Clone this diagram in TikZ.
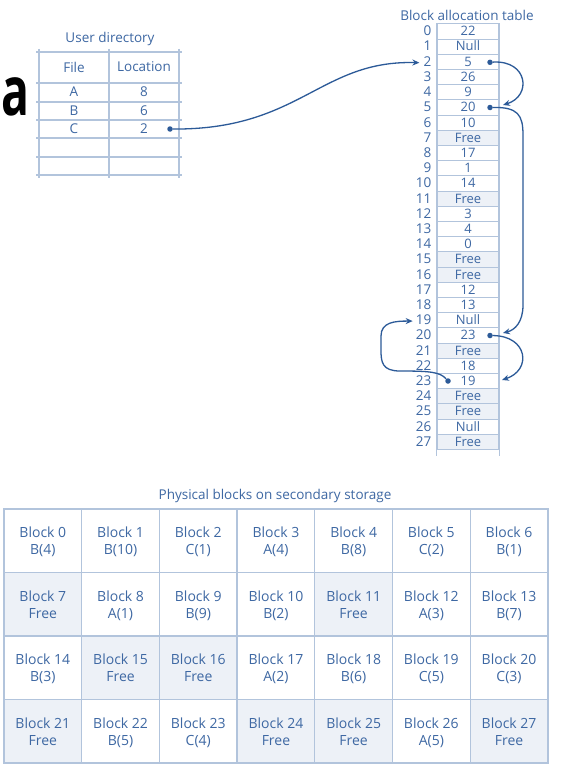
\documentclass[tikz,border=0pt]{standalone}
\usepackage{fontspec}
\setmainfont{Open Sans}
\usetikzlibrary{arrows.meta}
\definecolor{txt}{HTML}{3E68A3}
\definecolor{gridc}{HTML}{B2C4DC}
\definecolor{arr}{HTML}{2C5A98}
\definecolor{freefill}{HTML}{EDF1F7}
\tikzset{
  lbl/.style={text=txt, inner sep=0pt, font=\fontsize{13.5}{16}\selectfont},
  udcell/.style={text=txt, inner sep=0pt, font=\fontsize{13.5}{16}\selectfont},
  batcell/.style={draw=gridc, line width=1.1pt, minimum width=62pt, minimum height=15.2pt, inner sep=0pt, text=txt},
  battext/.style={inner sep=0pt, text height=9.6pt, text depth=2.6pt, text=txt, font=\fontsize{13}{15}\selectfont},
  idxlbl/.style={anchor=east, inner sep=1pt, text height=9.6pt, text depth=2.6pt, text=txt, font=\fontsize{13.5}{15}\selectfont},
  pbcell/.style={draw=gridc, line width=1.3pt, minimum width=77.7pt, minimum height=63.5pt, inner sep=0pt},
  pbtext/.style={inner sep=0pt, text=txt, align=center, font=\fontsize{14}{17}\selectfont},
  dotn/.style={circle, fill=arr, inner sep=0pt, minimum size=5.5pt},
  link/.style={draw=arr, line width=1.3pt, -{Stealth[length=7pt,width=6pt]}},
}
\begin{document}
\begin{tikzpicture}[x=1pt,y=-1pt]
\useasboundingbox (0,0) rectangle (562,768);
\clip (0,0) rectangle (562,768);
\fill[white] (0,0) rectangle (562,768);
% big letter
\node[anchor=base west, inner sep=0pt, xscale=0.68, transform shape, font=\fontsize{68}{68}\selectfont\bfseries] (biga) at (1,115) {a};
% user directory
\node[lbl] (udtitle) at (110,39) {User directory};
\draw[gridc, line width=1.1pt]
  (36,52) -- (182,52) (36,83) -- (182,83) (36,102) -- (182,102) (36,120) -- (182,120)
  (36,138) -- (182,138) (36,157) -- (182,157) (36,175) -- (182,175)
  (39,49) -- (39,178) (109,49) -- (109,178) (179,49) -- (179,178);
\node[udcell] (udh1) at (74,67) {File};
\node[udcell] (udh2) at (144,67) {Location};
\node[udcell] (udA) at (74,92) {A};
\node[udcell] (udA2) at (144,92) {8};
\node[udcell] (udB) at (74,111) {B};
\node[udcell] (udB2) at (144,111) {6};
\node[udcell] (udC) at (74,129) {C};
\node[udcell] (udC2) at (144,129) {2};
\node[dotn] (dotC) at (170,129) {};
% block allocation table
\node[lbl] (battitle) at (467,15) {Block allocation table};
\foreach \v/\f [count=\i from 0] in {22/white,Null/white,5/white,26/white,9/white,20/white,10/white,Free/freefill,17/white,1/white,14/white,Free/freefill,3/white,4/white,0/white,Free/freefill,Free/freefill,12/white,13/white,Null/white,23/white,Free/freefill,18/white,19/white,Free/freefill,Free/freefill,Null/white,Free/freefill}{
  \node[batcell, fill=\f] (bat\i) at (468,31.5+15.2*\i) {};
  \node[battext] (batv\i) at (468,32.3+15.2*\i) {\v};
  \node[idxlbl] (idx\i) at (432.5,32.3+15.2*\i) {\i};
}
\draw[gridc, line width=1.1pt] (bat27.south west) -- ++(0,6) (bat27.south east) -- ++(0,6);
\node[dotn] (d2) at (490,62.3) {};
\node[dotn] (d5) at (490,107.5) {};
\node[dotn] (d20) at (490,335.5) {};
\node[dotn] (d23) at (448,381) {};
% connectors
\draw[link] (dotC) .. controls (300,130) and (320,60) .. ([xshift=-3pt]idx2.west);
\draw[link] (d2) .. controls (528,60) and (532,96) .. (503,105);
\draw[link] (d5) .. controls (518,107) and (523,115) .. (523,135) -- (523,305) .. controls (523,322) and (515,330) .. (503,333);
\draw[link] (d20) .. controls (528,336) and (532,370) .. (502,380);
\draw[link] (d23) .. controls (440,372) and (430,371) .. (400,371) .. controls (382,371) and (381,362) .. (381,350) -- (381,336) .. controls (381,322) and (395,321) .. ([xshift=-2pt]idx19.west);
% physical blocks
\node[lbl] (pbtitle) at (275,496) {Physical blocks on secondary storage};
\foreach \c/\f [count=\i from 0] in {B(4)/white,B(10)/white,C(1)/white,A(4)/white,B(8)/white,C(2)/white,B(1)/white,
  Free/freefill,A(1)/white,B(9)/white,B(2)/white,Free/freefill,A(3)/white,B(7)/white,
  B(3)/white,Free/freefill,Free/freefill,A(2)/white,B(6)/white,C(5)/white,C(3)/white,
  Free/freefill,B(5)/white,C(4)/white,Free/freefill,Free/freefill,A(5)/white,Free/freefill}{
  \pgfmathtruncatemacro{\col}{mod(\i,7)}
  \pgfmathtruncatemacro{\row}{div(\i,7)}
  \node[pbcell, fill=\f] (pb\i) at (42.85+77.7*\col,540.75+63.5*\row) {};
  \node[pbtext] (pbt\i) at (42.85+77.7*\col,543+63.5*\row) {\strut Block \i\\\strut\c};
}
\end{tikzpicture}
\end{document}
